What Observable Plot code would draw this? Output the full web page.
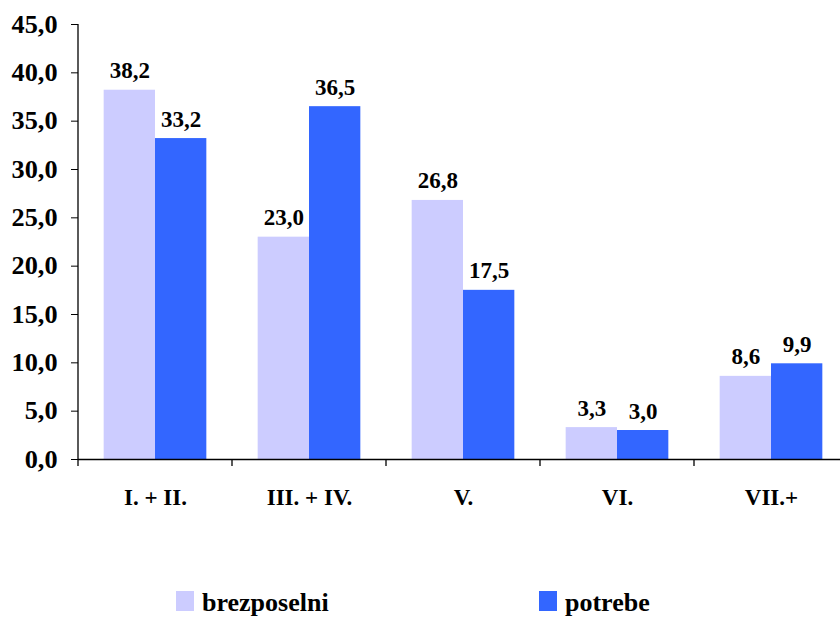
<!DOCTYPE html>
<html><head><meta charset="utf-8">
<script src="https://cdn.jsdelivr.net/npm/d3@7"></script>
<script src="https://cdn.jsdelivr.net/npm/@observablehq/plot@0.6"></script>
<style>
body{margin:0;background:#fff;}
#wrap{position:relative;width:840px;height:617px;overflow:hidden;background:#fff;}
#chart{position:absolute;left:0;top:0;width:848px;}
#chart svg{max-width:none !important;}
#legend{position:absolute;left:0;top:560px;}
</style></head><body><div id="wrap"><div id="chart"></div><div id="legend"></div></div>
<script>
const categories = ["I. + II.", "III. + IV.", "V.", "VI.", "VII.+"];
const series = ["brezposelni", "potrebe"];
const brezposelni = [38.2, 23.0, 26.8, 3.3, 8.6];
const potrebe = [33.2, 36.5, 17.5, 3.0, 9.9];
const colors = ["#CCCCFF", "#3366FF"];
const yTicks = [0, 5, 10, 15, 20, 25, 30, 35, 40, 45];

const FONT = "'Liberation Serif', 'Times New Roman', serif";
const data = categories.flatMap((c, i) => [
  {cat: c, s: series[0], v: brezposelni[i]},
  {cat: c, s: series[1], v: potrebe[i]}
]);
const fmt = d => d.toFixed(1).replace(".", ",");

const chart = Plot.plot({
  width: 848, height: 560,
  marginLeft: 78, marginRight: 0, marginTop: 24, marginBottom: 101,
  style: {fontFamily: FONT, fontWeight: "bold", fontSize: "23px", background: "white", color: "#000", overflow: "visible"},
  fx: {domain: categories, paddingInner: 0, paddingOuter: 0, round: false, label: null, axis: null},
  x: {domain: series, paddingInner: 0, paddingOuter: 0.5, round: false, axis: null},
  y: {domain: [0, 45], axis: null},
  color: {domain: series, range: colors},
  marks: [
    Plot.barY(data, {fx: "cat", x: "s", y: "v", fill: "s"}),
    Plot.ruleY([0], {stroke: "#000", strokeWidth: 1.3}),
    Plot.text(data, {fx: "cat", x: "s", y: "v", text: d => fmt(d.v), lineAnchor: "bottom", dy: -12, fontSize: 23, fontWeight: "bold", fill: "#000"}),
    Plot.axisY({ticks: yTicks, tickFormat: fmt, tickSize: 7, tickPadding: 14, fontSize: 25, fontWeight: "bold", label: null, stroke: "#000"}),
    Plot.axisFx({anchor: "bottom", tickSize: 0, tickPadding: 29, fontSize: 23, fontWeight: "bold", label: null})
  ]
});
document.getElementById("chart").appendChild(chart);

// axis line and category boundary ticks, positioned via the plot's own scales
const fx = chart.scale("fx"), y = chart.scale("y");
const svg = d3.select(chart);
const x0 = fx.range[0];
svg.append("line").attr("x1", x0).attr("x2", x0).attr("y1", y.apply(0)).attr("y2", y.apply(45))
  .attr("stroke", "#000").attr("stroke-width", 1.3);
const bounds = categories.map(c => fx.apply(c)).concat([fx.apply(categories[categories.length - 1]) + fx.bandwidth]);
svg.selectAll("line.bt").data(bounds).join("line").attr("class", "bt")
  .attr("x1", d => d).attr("x2", d => d).attr("y1", y.apply(0)).attr("y2", y.apply(0) + 7)
  .attr("stroke", "#000").attr("stroke-width", 1.3);

// slightly wider y tick labels, as in the original rendering
svg.selectAll('g[aria-label="y-axis tick label"] text').each(function () {
  this.setAttribute("textLength", this.getComputedTextLength() * 1.05);
  this.setAttribute("lengthAdjust", "spacingAndGlyphs");
});

// legend (below the chart)
const legX = [176, 539];
const leg = d3.select("#legend").append("svg").attr("width", 840).attr("height", 57)
  .style("font-family", FONT).style("font-weight", "bold").style("font-size", "26px");
const items = leg.selectAll("g").data(series).join("g")
  .attr("transform", (d, i) => `translate(${legX[i]},0)`);
items.append("rect").attr("x", 0).attr("y", 31).attr("width", 18).attr("height", 20)
  .attr("fill", (d, i) => colors[i]);
items.append("text").attr("x", 26).attr("y", 51).attr("fill", "#000").text(d => d);
</script>
</body></html>
